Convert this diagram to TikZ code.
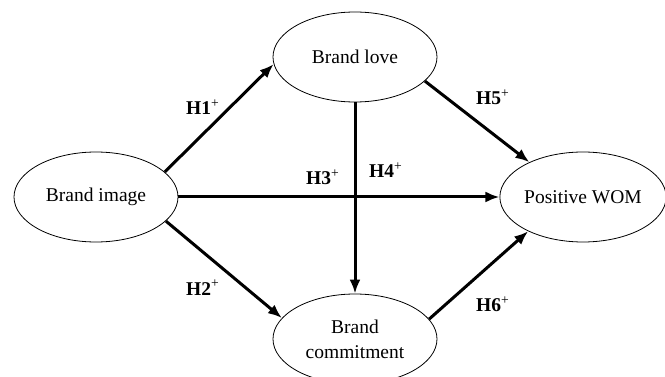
\documentclass[tikz,border=0pt]{standalone}
\usepackage{fontspec}
\setmainfont{Liberation Serif}
\usetikzlibrary{shapes.geometric,arrows.meta}
\begin{document}
\begin{tikzpicture}[x=1pt,y=-1pt,
  construct/.style={draw=black,line width=0.8pt,ellipse,minimum width=164pt,minimum height=90pt,inner sep=0pt,align=center,font=\fontsize{19.5}{25}\selectfont},
  path/.style={line width=3pt,-{Latex[length=14pt,width=11pt]}},
  hyp/.style={anchor=base west,inner sep=0pt,font=\fontsize{19.5}{22}\selectfont\bfseries}]
\useasboundingbox (0,0) rectangle (665,377);
\node[construct] (image) at (96,197) {Brand image};
\node[construct] (love) at (355,57) {Brand love};
\node[construct] (commit) at (355,339) {Brand\\commitment};
\node[construct,minimum width=162pt] (wom) at (583,197) {Positive WOM};
\draw[path] (image.20) -- (love.185.6);
\draw[path] (image.341) -- (commit.164.7);
\draw[path] (image.east) -- (wom.west);
\draw[path] (love.south) -- (commit.north);
\draw[path] (love.341) -- (wom.147.3);
\draw[path] (commit.15) -- (wom.212.7);
\node[hyp] (h1) at (186,115) {H1\textsuperscript{\mdseries +}};
\node[hyp] (h2) at (186,295) {H2\textsuperscript{\mdseries +}};
\node[hyp] (h3) at (306,185) {H3\textsuperscript{\mdseries +}};
\node[hyp] (h4) at (369,178) {H4\textsuperscript{\mdseries +}};
\node[hyp] (h5) at (476,105) {H5\textsuperscript{\mdseries +}};
\node[hyp] (h6) at (476,312) {H6\textsuperscript{\mdseries +}};
\end{tikzpicture}
\end{document}
